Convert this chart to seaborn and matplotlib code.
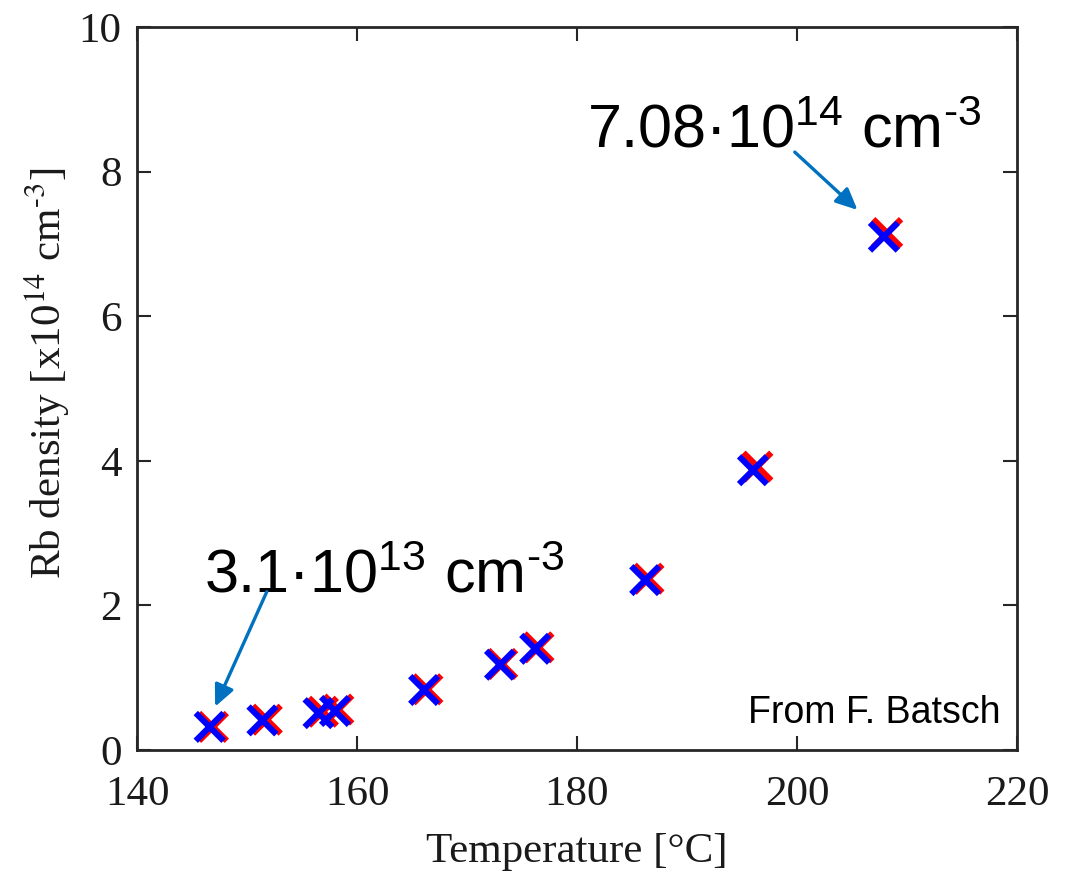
"""Rb vapour density vs. cell temperature, two measurement series."""
import matplotlib

matplotlib.use("Agg")
import matplotlib.pyplot as plt
import pandas as pd
import seaborn as sns

# data
temp_blue = [146.6, 151.4, 156.5, 158.0, 166.1, 173.0, 176.2, 186.2, 196.0, 207.9]
dens_blue = [0.32, 0.41, 0.51, 0.54, 0.83, 1.18, 1.40, 2.35, 3.87, 7.10]
temp_red = [146.9, 151.8, 156.9, 158.3, 166.4, 173.2, 176.5, 186.5, 196.4, 208.2]
dens_red = [0.32, 0.42, 0.53, 0.56, 0.84, 1.19, 1.42, 2.37, 3.92, 7.15]

x_ticks = [140, 160, 180, 200, 220]
y_ticks = [0, 2, 4, 6, 8, 10]

HY = "\u2010"  # plain hyphen, so mathtext does not turn it into a minus
# annotations: (text, text anchor, arrow start, arrow tip) in data units
note_high = (f"7.08\u00b710$^{{14}}$ cm$^{{{HY}3}}$", (198.8, 8.34), (199.8, 8.27), (205.5, 7.47))
note_low = (f"3.1\u00b710$^{{13}}$ cm$^{{{HY}3}}$", (162.45, 2.185), (151.8, 2.19), (147.1, 0.60))

sns.set_theme(style="ticks")
plt.rcParams["font.family"] = ["Liberation Serif", "DejaVu Serif"]
plt.rcParams["mathtext.fontset"] = "custom"
plt.rcParams["mathtext.rm"] = "Liberation Sans"
plt.rcParams["mathtext.it"] = "Liberation Sans:italic"
plt.rcParams["mathtext.bf"] = "Liberation Sans:bold"

df = pd.concat([
    pd.DataFrame({"T": temp_red, "n": dens_red, "series": "red"}),
    pd.DataFrame({"T": temp_blue, "n": dens_blue, "series": "blue"}),
])

fig = plt.figure(figsize=(10.68, 8.76), dpi=100)
ax = fig.add_axes([0.1283, 0.1438, 0.8239, 0.8254])

sns.scatterplot(data=df, x="T", y="n", hue="series",
                palette={"red": "#ff0000", "blue": "#0000ff"},
                marker="x", s=400, linewidth=4.4, legend=False, ax=ax)

ax.set_xlim(140, 220)
ax.set_ylim(0, 10)
ax.set_xticks(x_ticks)
ax.set_yticks(y_ticks)
ax.tick_params(direction="in", length=10, width=1.5, labelsize=31,
               top=True, right=True, colors="#262626", labelcolor="#1a1a1a")
ax.tick_params(axis="x", pad=18)
ax.tick_params(axis="y", pad=11)
for side in ax.spines.values():
    side.set_linewidth(2)
    side.set_color("#262626")

ax.set_xlabel("Temperature [\u00b0C]", fontsize=31, labelpad=14, color="#1a1a1a")
ax.set_ylabel(f"Rb density [x10$^{{14}}$ cm$^{{{HY}3}}$]", fontsize=31,
              math_fontfamily="stix", color="#1a1a1a")
ax.yaxis.set_label_coords(-0.074, 0.521)

for text, xy_text, xy_start, xy_tip in (note_high, note_low):
    ax.text(*xy_text, text, fontsize=44, family="Liberation Sans",
            ha="center", va="baseline", color="black")
    ax.annotate("", xy=xy_tip, xytext=xy_start,
                arrowprops=dict(arrowstyle="-|>,head_length=0.65,head_width=0.3",
                                mutation_scale=20, color="#0070c0", lw=2.4,
                                shrinkA=0, shrinkB=0))

ax.text(0.981, 0.037, "From F. Batsch", transform=ax.transAxes,
        fontsize=27, family="Liberation Sans", ha="right", va="baseline",
        color="black")

fig.savefig("out.png", dpi=100)
